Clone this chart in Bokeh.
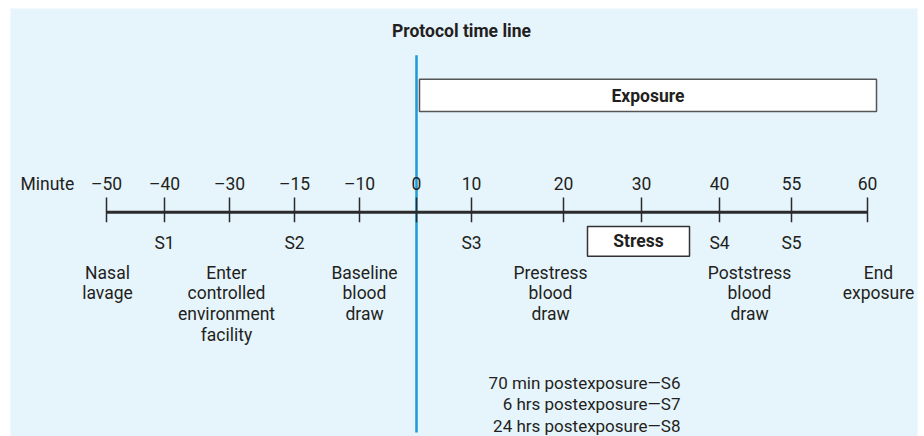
from bokeh.plotting import figure
from bokeh.models import Range1d, ColumnDataSource
from bokeh.core.properties import value
from bokeh.embed import file_html
from bokeh.resources import INLINE

# ---- data ----
title_text = "Protocol time line"
axis_name = "Minute"
tick_minutes = [-50, -40, -30, -15, -10, 0, 10, 20, 30, 40, 55, 60]
tick_labels = ["–50", "–40", "–30", "–15", "–10", "0", "10", "20", "30", "40", "55", "60"]
sample_labels = ["S1", "S2", "S3", "S4", "S5"]
sample_minutes = [-40, -15, 10, 40, 55]
event_labels = ["Nasal\nlavage", "Enter\ncontrolled\nenvironment\nfacility",
                "Baseline\nblood\ndraw", "Prestress\nblood\ndraw",
                "Poststress\nblood\ndraw", "End\nexposure"]
exposure_label = "Exposure"
stress_label = "Stress"
post_labels = ["70 min postexposure—S6", "6 hrs postexposure—S7", "24 hrs postexposure—S8"]

# ---- layout (frame pixel positions) ----
tick_x = [96, 154, 219, 284, 349, 406, 461, 553, 631, 709, 781, 857]
event_x = [97, 216, 354, 540, 739, 868]
pos = dict(zip(tick_minutes, tick_x))

FONT = value("Roboto")
TXT = "#231f20"
BG = "#e6f4fc"
BLUE = "#1b9bd7"

p = figure(width=924, height=436, output_backend="svg", toolbar_location=None,
           x_range=Range1d(0, 907), y_range=Range1d(428, 0),
           x_axis_location=None, y_axis_location=None,
           min_border_left=10, min_border_right=7, min_border_top=8, min_border_bottom=0,
           background_fill_color=BG, border_fill_color="white", outline_line_color=None)
p.grid.visible = False

# title
p.text(x=[451], y=[22], text=[title_text], text_font=FONT, text_font_style="bold",
       text_font_size="17.5px", text_align="center", text_baseline="middle", text_color=TXT)

# exposure box
p.quad(left=[pos[0] + 3], right=[866], top=[70.7], bottom=[103], fill_color="white",
       line_color="#555555", line_width=1.5)
p.text(x=[637.5], y=[87], text=[exposure_label], text_font=FONT, text_font_style="bold",
       text_font_size="17.5px", text_align="center", text_baseline="middle", text_color=TXT)

# blue zero line
p.segment(x0=[pos[0]], x1=[pos[0]], y0=[46.7], y1=[424], line_color=BLUE, line_width=2.5)

# timeline axis
p.segment(x0=[tick_x[0]], x1=[tick_x[-1]], y0=[203.7], y1=[203.7], line_color="#2b2b2b", line_width=3)
tsrc = ColumnDataSource(dict(x=tick_x, lab=tick_labels))
p.segment(x0="x", x1="x", y0=189, y1=213.7, source=tsrc, line_color="#2b2b2b", line_width=1.5)
p.text(x="x", y=175, text="lab", source=tsrc, text_font=FONT, text_font_size="17.5px",
       text_align="center", text_baseline="middle", text_color=TXT)
p.text(x=[10], y=[175], text=[axis_name], text_font=FONT, text_font_size="17.5px",
       text_align="left", text_baseline="middle", text_color=TXT)

# sample labels
ssrc = ColumnDataSource(dict(x=[pos[m] for m in sample_minutes], lab=sample_labels))
p.text(x="x", y=234, text="lab", source=ssrc, text_font=FONT, text_font_size="17.5px",
       text_align="center", text_baseline="middle", text_color=TXT)

# stress box
p.quad(left=[577], right=[679], top=[218], bottom=[247.7], fill_color="white",
       line_color="#333333", line_width=1.5)
p.text(x=[628], y=[232], text=[stress_label], text_font=FONT, text_font_style="bold",
       text_font_size="17.5px", text_align="center", text_baseline="middle", text_color=TXT)

# event labels (one row per line)
ex, ey, et = [], [], []
for x, lab in zip(event_x, event_labels):
    for i, line in enumerate(lab.split("\n")):
        ex.append(x); ey.append(264 + i * 20.7); et.append(line)
p.text(x=ex, y=ey, text=et, text_font=FONT, text_font_size="17.5px",
       text_align="center", text_baseline="middle", text_color=TXT)

# postexposure labels
p.text(x=[670] * 3, y=[374 + i * 21.5 for i in range(3)], text=post_labels, text_font=FONT,
       text_font_size="17px", text_align="right", text_baseline="middle", text_color=TXT)

open("out.html", "w").write(file_html(p, INLINE))
